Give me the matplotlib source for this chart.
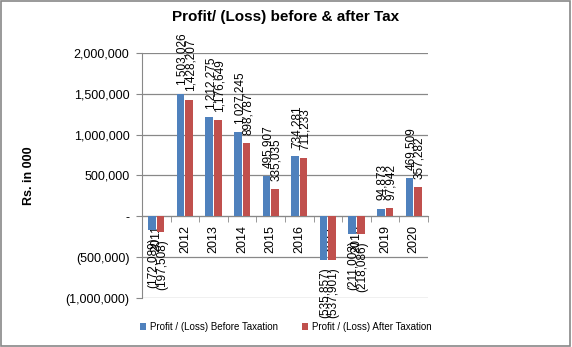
import matplotlib.pyplot as plt
import matplotlib.ticker as ticker
from matplotlib.patches import Rectangle
import numpy as np

years = ['2011', '2012', '2013', '2014', '2015', '2016', '2017', '2018', '2019', '2020']
beforeTax = [-172089, 1503026, 1212275, 1027245, 495907, 734281, -535857, -211003, 94873, 469509]
afterTax = [-197508, 1428207, 1176649, 898787, 335035, 711233, -537901, -218086, 97942, 357282]

plt.rcParams['font.family'] = ['Liberation Sans', 'DejaVu Sans']

def fmt(v):
    if v == 0:
        return '-'
    if v < 0:
        return '({:,.0f})'.format(-v)
    return '{:,.0f}'.format(v)

fig = plt.figure(figsize=(5.72, 3.47), dpi=100)
ax = fig.add_axes([142/572, 1 - 298/347, (428-142)/572, (298-53)/347])

x = np.arange(len(years))
w = 0.26
off = 0.15
b1 = ax.bar(x - off, beforeTax, w, color='#4F81BD', label='Profit / (Loss) Before Taxation', zorder=3)
b2 = ax.bar(x + off, afterTax, w, color='#C0504D', label='Profit / (Loss) After Taxation', zorder=3)

for bars, vals in ((b1, beforeTax), (b2, afterTax)):
    for bar, v in zip(bars, vals):
        cx = bar.get_x() + bar.get_width() / 2 + 0.05
        if v >= 0:
            ax.annotate(fmt(v), (cx, v), xytext=(0, 6), textcoords='offset points',
                        rotation=90, ha='center', va='bottom', fontsize=8.5, zorder=4)
        else:
            ax.annotate(fmt(v), (cx, v), xytext=(0, -5), textcoords='offset points',
                        rotation=90, ha='center', va='top', fontsize=8.5, zorder=4)

ax.spines['bottom'].set_position(('data', 0))
ax.spines['bottom'].set_color('#888888')
ax.spines['left'].set_color('#888888')
ax.spines['top'].set_visible(False)
ax.spines['right'].set_visible(False)

ax.set_ylim(-1000000, 2000000)
ax.set_xlim(-0.5, len(years) - 0.5)
ax.yaxis.set_major_locator(ticker.MultipleLocator(500000))
ax.yaxis.set_major_formatter(ticker.FuncFormatter(lambda v, p: fmt(v)))
ax.grid(axis='y', color='#888888', linewidth=0.9, zorder=0)

ax.set_xticks(x)
ax.set_xticklabels(years)
ax.set_xticks(np.arange(-0.5, len(years)), minor=True)
ax.tick_params(axis='x', which='major', length=0, pad=6, labelrotation=90, labelsize=9)
ax.tick_params(axis='x', which='minor', length=4, color='#888888')
ax.tick_params(axis='y', length=4, color='#888888', labelsize=9, pad=5)

ax.set_ylabel('Rs. in 000', fontsize=9, fontweight='bold')
ax.yaxis.set_label_coords(-0.375, 0.5)

fig.text(0.5, 1 - 17/347, 'Profit/ (Loss) before & after Tax', ha='center', va='center',
         fontsize=11, fontweight='bold')
fig.legend(handles=[b1, b2], loc='center', bbox_to_anchor=(0.5, 1 - 327/347), ncol=2,
           frameon=False, fontsize=7, handlelength=0.6, handleheight=0.6, columnspacing=2.5,
           handletextpad=0.4)

fig.patches.append(Rectangle((0.002, 0.003), 0.995, 0.994, transform=fig.transFigure,
                             fill=False, edgecolor='#888888', linewidth=1.2))

fig.savefig('out.png', dpi=100)
